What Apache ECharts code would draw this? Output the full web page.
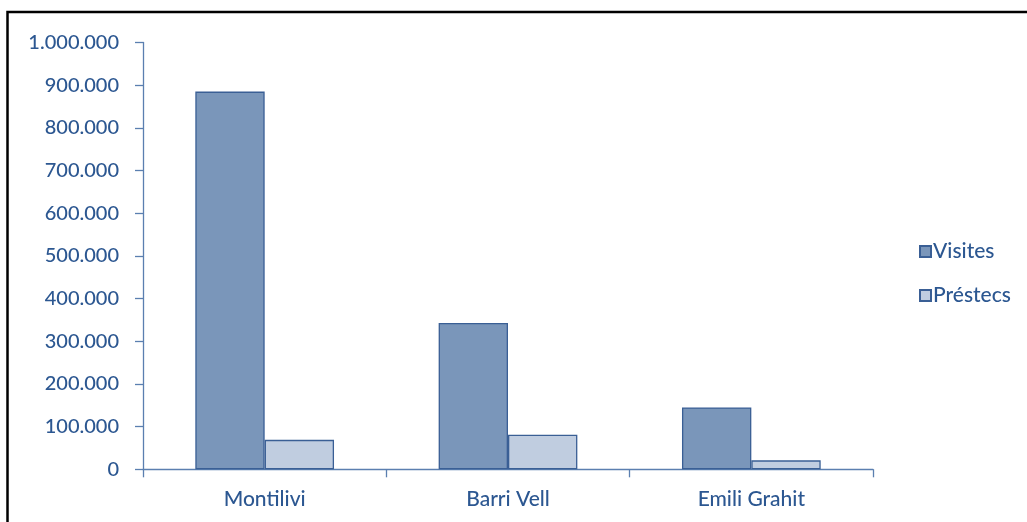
<!DOCTYPE html>
<html>
<head>
<meta charset="utf-8">
<script src="https://cdn.jsdelivr.net/npm/echarts@6/dist/echarts.min.js"></script>
<style>
html,body{margin:0;padding:0;background:#fff;}
#chart{width:1027px;height:522px;}
</style>
</head>
<body>
<div id="chart"></div>
<script>
const categories = ['Montilivi', 'Barri Vell', 'Emili Grahit'];
const visites = [885000, 343000, 145000];
const prestecs = [69000, 81000, 21000];
const seriesNames = ['Visites', 'Préstecs'];

const textColor = '#2c5791';
const axisColor = '#5b7fb0';
const fontFamily = 'Lato, "Open Sans", sans-serif';

function fmt(v) {
  return String(v).replace(/\B(?=(\d{3})+(?!\d))/g, '.');
}

const chart = echarts.init(document.getElementById('chart'));
chart.setOption({
  animation: false,
  textStyle: { fontFamily: fontFamily },
  graphic: [{
    type: 'rect',
    shape: { x: 7.5, y: 12, width: 1100, height: 600 },
    style: { fill: 'none', stroke: '#000', lineWidth: 2.5 },
    silent: true
  }],
  grid: { left: 143, right: 154, top: 42.5, bottom: 52.7 },
  legend: {
    orient: 'vertical',
    left: 914,
    top: 235,
    itemWidth: 11,
    itemHeight: 11,
    itemGap: 21,
    icon: 'rect',
    textStyle: { color: textColor, fontSize: 21, fontWeight: 500, fontFamily: fontFamily, padding: [0, 0, 0, -3], lineHeight: 23 },
    data: seriesNames
  },
  xAxis: {
    type: 'category',
    data: categories,
    axisLine: { lineStyle: { color: axisColor, width: 1.3 } },
    axisTick: { show: true, length: 8, lineStyle: { color: axisColor, width: 1.3 } },
    axisLabel: { color: textColor, fontSize: 21, fontWeight: 500, margin: 19, fontFamily: fontFamily }
  },
  yAxis: {
    type: 'value',
    min: 0,
    max: 1000000,
    interval: 100000,
    axisLine: { show: true, lineStyle: { color: axisColor, width: 1.3 } },
    axisTick: { show: true, length: 8, lineStyle: { color: axisColor, width: 1.3 } },
    splitLine: { show: false },
    axisLabel: { color: textColor, fontSize: 20, fontWeight: 500, margin: 24, fontFamily: fontFamily, formatter: fmt }
  },
  series: [
    {
      name: seriesNames[0],
      type: 'bar',
      data: visites,
      barGap: '0%',
      barCategoryGap: '43%',
      itemStyle: { color: '#7a96ba', borderColor: '#3a5f95', borderWidth: 1.3 }
    },
    {
      name: seriesNames[1],
      type: 'bar',
      data: prestecs,
      itemStyle: { color: '#c0cde0', borderColor: '#3a5f95', borderWidth: 1.3 }
    }
  ]
});
</script>
</body>
</html>
